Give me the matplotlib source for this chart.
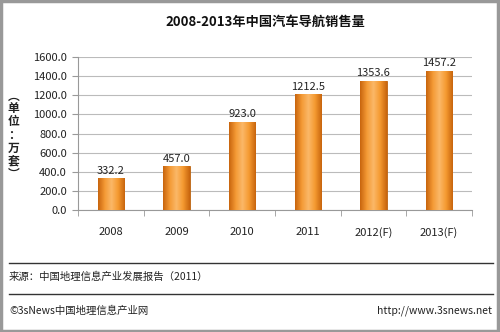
import matplotlib
matplotlib.use("Agg")
import matplotlib.pyplot as plt
import numpy as np
from matplotlib.colors import LinearSegmentedColormap

plt.rcParams['font.family'] = ['Noto Sans CJK SC', 'DejaVu Sans']

categories = ["2008", "2009", "2010", "2011", "2012(F)", "2013(F)"]
values = [332.2, 457.0, 923.0, 1212.5, 1353.6, 1457.2]
value_labels = ["332.2", "457.0", "923.0", "1212.5", "1353.6", "1457.2"]
yticks = [0, 200, 400, 600, 800, 1000, 1200, 1400, 1600]

title = "2008-2013年中国汽车导航销售量"
ylabel = "︵单位：万套︶"
source = "来源：中国地理信息产业发展报告（2011）"
footer_left = "©3sNews中国地理信息产业网"
footer_right = "http://www.3snews.net"

fig = plt.figure(figsize=(5.0, 3.32), dpi=100)
ax = fig.add_axes([0.156, 0.3675, 0.788, 0.4605])

x = np.arange(len(categories))
bw = 0.4
bars = ax.bar(x, values, width=bw, color="#F39A2E", edgecolor="#B8600F", linewidth=0.6, zorder=3)

cmap = LinearSegmentedColormap.from_list("o", ["#C8650E", "#F49A35", "#FBB868", "#F59A30", "#C8650E"])
grad = np.linspace(0, 1, 64).reshape(1, -1)
for b in bars:
    x0, y0 = b.get_x(), b.get_y()
    w, h = b.get_width(), b.get_height()
    im = ax.imshow(grad, extent=[x0, x0 + w, y0, y0 + h], aspect="auto", cmap=cmap, zorder=3.5)
    im.set_clip_path(b)

for xi, v, lab in zip(x, values, value_labels):
    ax.text(xi, v + 25, lab, ha="center", va="bottom", fontsize=8, color="#222222", zorder=5)

ax.set_xlim(-0.5, len(categories) - 0.5)
ax.set_ylim(0, 1600)
ax.set_yticks(yticks)
ax.set_yticklabels([f"{t:.1f}" for t in yticks], fontsize=8, color="#222222")
ax.yaxis.grid(True, color="#BBBBBB", linewidth=0.8, zorder=0)
ax.set_axisbelow(True)

ax.set_xticks(x)
ax.set_xticklabels(categories, fontsize=8, color="#222222")
ax.set_xticks(np.arange(-0.5, len(categories)), minor=True)
ax.tick_params(axis="x", which="major", length=0, pad=12)
ax.tick_params(axis="x", which="minor", length=4, color="#999999", direction="out")
ax.tick_params(axis="y", length=4, color="#999999", direction="out", pad=4)

for s in ["top", "right"]:
    ax.spines[s].set_visible(False)
ax.spines["left"].set_color("#999999")
ax.spines["bottom"].set_color("#999999")

fig.text(0.53, 0.935, title, ha="center", va="center", fontsize=9.5, fontweight="bold", color="#111111")
fig.text(0.027, 1 - 135 / 332, "\n".join(ylabel), ha="center", va="center", fontsize=8.5, fontweight="bold",
         color="#222222", linespacing=1.0)

fig.add_artist(plt.Line2D([0.018, 0.985], [1 - 263 / 332, 1 - 263 / 332], color="#333333", linewidth=1.0))
fig.add_artist(plt.Line2D([0.018, 0.985], [1 - 294 / 332, 1 - 294 / 332], color="#333333", linewidth=1.0))
fig.text(0.018, 1 - 277 / 332, source, ha="left", va="center", fontsize=7.5, color="#222222")
fig.text(0.018, 1 - 311 / 332, footer_left, ha="left", va="center", fontsize=7.5, color="#222222")
fig.text(0.985, 1 - 311 / 332, footer_right, ha="right", va="center", fontsize=7.5, color="#222222")

fig.add_artist(plt.Rectangle((0.002, 0.003), 0.994, 0.994, transform=fig.transFigure, fill=False,
                             edgecolor="#999999", linewidth=2.5))

fig.savefig("out.png", dpi=100)
